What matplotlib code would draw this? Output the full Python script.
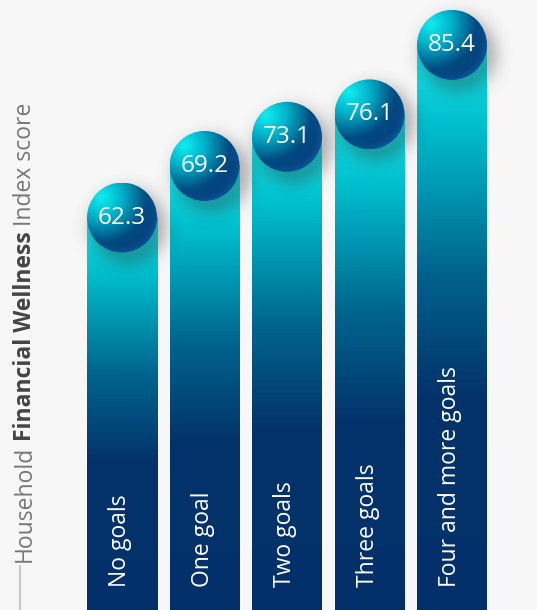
import numpy as np
import matplotlib
matplotlib.use("Agg")
import matplotlib.pyplot as plt
from matplotlib.colors import LinearSegmentedColormap, to_rgb
from matplotlib.patches import Ellipse

# Data
categories = ["No goals", "One goal", "Two goals", "Three goals", "Four and more goals"]
scores = [62.3, 69.2, 73.1, 76.1, 85.4]

BG_COLOR = "#f7f7f7"
LABEL_COLOR = "#777777"
W, H, DPI = 537, 610, 100
FONT = "Open Sans"

bar_cmap = LinearSegmentedColormap.from_list(
    "bar", [(0, "#16e6ea"), (0.15, "#00bccb"), (0.4, "#00648e"), (0.62, "#04336a"), (1, "#03306a")])
ball_cmap = LinearSegmentedColormap.from_list(
    "ball", [(0, "#10eef0"), (0.3, "#00b4cc"), (0.68, "#004a80"), (1, "#0b3f7e")])

fig = plt.figure(figsize=(W / DPI, H / DPI), dpi=DPI)
fig.patch.set_facecolor(BG_COLOR)
ax = fig.add_axes([0, 0, 1, 1])
ax.set_facecolor(BG_COLOR)
ax.axis("off")

xlim = (-1.479, 5.03)
ylim = (9.8, 91.4)
px_x = W / (xlim[1] - xlim[0])
px_y = H / (ylim[1] - ylim[0])
R = 35  # ball radius, px
bar_w = 70 / px_x

x = np.arange(len(categories))
bars = ax.bar(x, scores, width=bar_w, color="none", edgecolor="none")

grad = bar_cmap(np.linspace(0, 1, 400))[:, None, :]

# soft shadow image (pixel grid)
pad = 30
n = 2 * (R + pad)
gy, gx = np.mgrid[0:n, 0:n]
cx = cy = n / 2
d_sh = np.hypot(gx - (cx + 6), gy - (cy + 8))
sh_alpha = 0.32 * np.exp(-np.clip(d_sh - (R - 8), 0, None) ** 2 / (2 * 10 ** 2))
shadow = np.zeros((n, n, 4))
shadow[..., :3] = 0.2
shadow[..., 3] = sh_alpha

# ball gradient
m = 300
v, u = np.mgrid[1:-1:m * 1j, -1:1:m * 1j]
d_ball = np.clip(np.hypot(u + 0.6, v - 0.6) / 1.9, 0, 1)
ball = ball_cmap(d_ball)
r = np.hypot(u, v)
rim = np.clip((r - 0.8) / 0.2, 0, 1) * np.clip((u - v) / 1.4, 0, 1)
rim_col = np.array(to_rgb("#0a66aa"))
ball[..., :3] = ball[..., :3] * (1 - 0.6 * rim[..., None]) + rim_col * 0.6 * rim[..., None]

for xi, val, bar, cat in zip(x, scores, bars, categories):
    ax.imshow(grad, extent=(xi - bar_w / 2, xi + bar_w / 2, ylim[0], val),
              aspect="auto", origin="upper", clip_path=bar, zorder=1)

    hw, hh = (R + pad) / px_x, (R + pad) / px_y
    ax.imshow(shadow, extent=(xi - hw, xi + hw, val - hh, val + hh),
              aspect="auto", origin="upper", zorder=2)

    circ = Ellipse((xi, val), 2 * R / px_x, 2 * R / px_y, facecolor="none", edgecolor="none")
    ax.add_patch(circ)
    ax.imshow(ball, extent=(xi - R / px_x, xi + R / px_x, val - R / px_y, val + R / px_y),
              aspect="auto", origin="upper", clip_path=circ, zorder=3)

    ax.text(xi, val, f"{val:.1f}", ha="center", va="center", color="white",
            fontsize=17.5, family=FONT, zorder=5)
    ax.text(xi - 2 / px_x, ylim[0] + 23 / px_y, cat, rotation=90, ha="center", va="bottom",
            color="white", fontsize=16.5, family=FONT, zorder=5)

ax.set_xlim(*xlim)
ax.set_ylim(*ylim)

# Axis title with bold middle part
t1 = fig.text(25 / W, (H - 562) / H, "Household", rotation=90, ha="center", va="bottom",
              color=LABEL_COLOR, fontsize=16.5, family=FONT)
t2 = ax.annotate("Financial Wellness", xy=(0.5, 1), xycoords=t1, xytext=(0, 3.5),
                 textcoords="offset points", rotation=90, ha="center", va="bottom",
                 color="#444444", fontsize=16.5, family=FONT, fontweight="bold")
ax.annotate("Index score", xy=(0.5, 1), xycoords=t2, xytext=(0, 3.5),
            textcoords="offset points", rotation=90, ha="center", va="bottom",
            color=LABEL_COLOR, fontsize=16.5, family=FONT)
ax.plot([20 / W, 20 / W], [0, (H - 566) / H], transform=ax.transAxes,
        color="#c8c8c8", lw=1.5, clip_on=False)

fig.savefig("out.png", dpi=DPI, facecolor=BG_COLOR)
